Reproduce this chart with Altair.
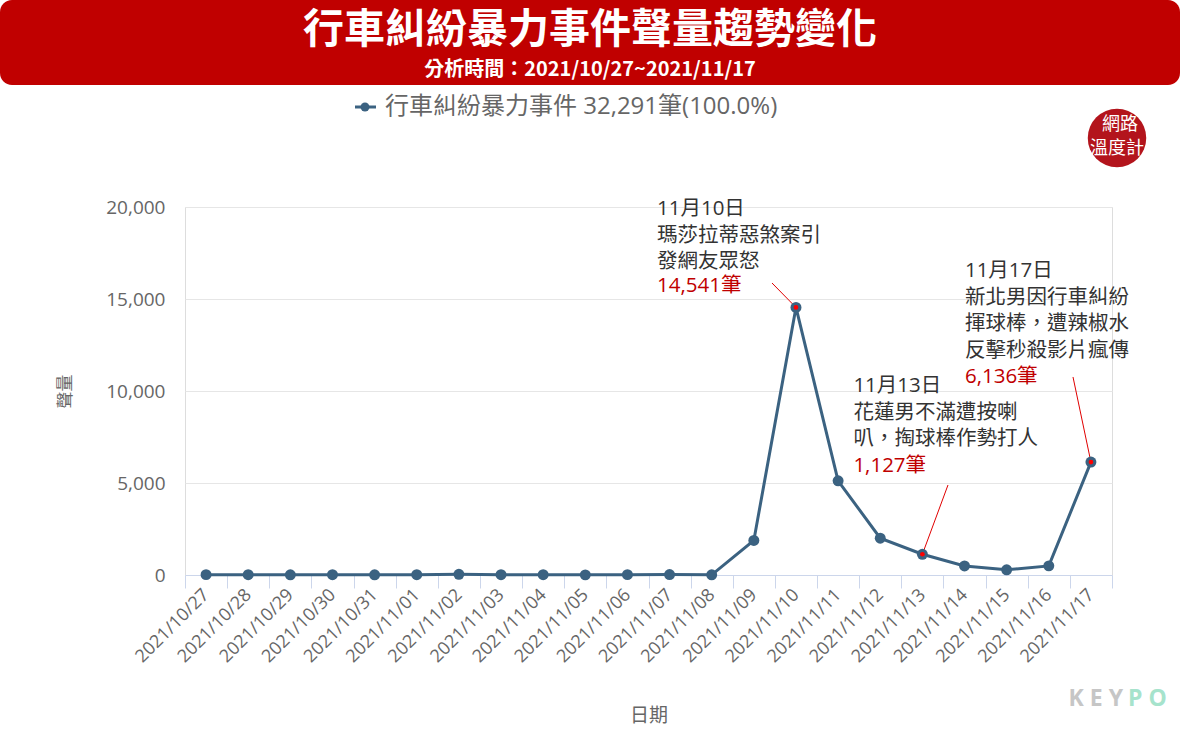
import altair as alt
import pandas as pd

# ---- data -------------------------------------------------------------
dates = [
    "2021/10/27", "2021/10/28", "2021/10/29", "2021/10/30", "2021/10/31",
    "2021/11/01", "2021/11/02", "2021/11/03", "2021/11/04", "2021/11/05",
    "2021/11/06", "2021/11/07", "2021/11/08", "2021/11/09", "2021/11/10",
    "2021/11/11", "2021/11/12", "2021/11/13", "2021/11/14", "2021/11/15",
    "2021/11/16", "2021/11/17",
]
counts = [
    20, 15, 12, 14, 10,
    18, 40, 17, 15, 8,
    20, 22, 10, 1880, 14541,
    5120, 2000, 1127, 490, 280,
    496, 6136,
]
y_ticks = [0, 5000, 10000, 15000, 20000]

series_name = "行車糾紛暴力事件"
title_text = "行車糾紛暴力事件聲量趨勢變化"
subtitle_text = "分析時間：2021/10/27~2021/11/17"

# annotated events: date, caption lines
events = [
    ("2021/11/10", ["11月10日", "瑪莎拉蒂惡煞案引", "發網友眾怒"]),
    ("2021/11/13", ["11月13日", "花蓮男不滿遭按喇", "叭，掏球棒作勢打人"]),
    ("2021/11/17", ["11月17日", "新北男因行車糾紛", "揮球棒，遭辣椒水", "反擊秒殺影片瘋傳"]),
]

# ---- styling ----------------------------------------------------------
W, H = 927, 368          # plot area
PAD_L, PAD_T = 185, 207
LINE_C = "#3b6281"
RED = "#c00000"
GREY = "#666666"
TXT = "#333333"
FONT = "Open Sans, Noto Sans CJK TC"
CJK = "Noto Sans CJK TC"

df = pd.DataFrame({"date": dates, "count": counts})
total = sum(counts)

x_enc = alt.X(
    "date:O",
    sort=dates,
    bandPosition=0.5,
    scale=alt.Scale(type="band", paddingInner=0, paddingOuter=0),
    title="日期",
    axis=alt.Axis(
        labelAngle=-45, labelAlign="right", labelBaseline="middle",
        labelFontSize=18, labelColor=GREY, labelPadding=4,
        tickBand="extent", tickSize=13, tickColor="#ccd6eb",
        domainColor="#ccd6eb", domainWidth=1, grid=False,
        titleFontSize=19, titleColor=GREY, titleFontWeight="normal",
        titleY=140, titleBaseline="middle",
    ),
)
y_enc = alt.Y(
    "count:Q",
    scale=alt.Scale(domain=[0, 20000]),
    title="聲量",
    axis=alt.Axis(
        values=y_ticks, format=",d", domain=False, ticks=False,
        labelFontSize=19, labelColor=GREY, labelPadding=20,
        grid=True, gridColor="#e6e6e6",
        titleFontSize=17, titleColor=GREY, titleFontWeight="normal",
        titleX=-120, titleY=184, titleAlign="center", titleBaseline="middle",
    ),
)

base = alt.Chart(df)
line = base.mark_line(color=LINE_C, strokeWidth=3).encode(x=x_enc, y=y_enc)
dots = base.mark_circle(color=LINE_C, size=120, opacity=1).encode(x=x_enc, y=y_enc)

layers = [line]

# annotation offsets (pixels, relative to the point) and leader ends
ann_layout = {
    "2021/11/10": dict(dx=-139, dy=-92, rdy=-15, lx=587, ly=76),
    "2021/11/13": dict(dx=-69, dy=-162, rdy=-82, lx=763, ly=278),
    "2021/11/17": dict(dx=-126, dy=-185, rdy=-79, lx=888, ly=170),
}

ev_dates = [d for d, _ in events]
ev_df = df[df["date"].isin(ev_dates)].reset_index(drop=True)

for d, lines in events:
    sub = alt.Chart(ev_df[ev_df["date"] == d])
    lay = ann_layout[d]
    layers.append(
        sub.mark_rule(color="#e00000", strokeWidth=1).encode(
            x=x_enc, y=y_enc, x2=alt.value(lay["lx"]), y2=alt.value(lay["ly"])
        )
    )

layers.append(dots)
layers.append(
    alt.Chart(ev_df).mark_circle(color="#ff0000", size=22, opacity=1).encode(x=x_enc, y=y_enc)
)

for d, lines in events:
    sub = alt.Chart(ev_df[ev_df["date"] == d])
    lay = ann_layout[d]
    layers.append(
        sub.mark_text(
            text=lines, align="left", baseline="alphabetic", lineHeight=26.5,
            fontSize=20.5, font=FONT, color=TXT, dx=lay["dx"], dy=lay["dy"],
        ).encode(x=x_enc, y=y_enc)
    )
    layers.append(
        sub.transform_calculate(lbl="format(datum.count, ',') + '筆'")
        .mark_text(
            align="left", baseline="alphabetic", fontSize=20.5, font=FONT,
            color=RED, dx=lay["dx"], dy=lay["rdy"],
        )
        .encode(x=x_enc, y=y_enc, text="lbl:N")
    )

# ---- header, legend and badges (pixel positions outside the plot) -----
one = alt.Chart(pd.DataFrame({"k": [0]}))

banner = one.mark_rect(color=RED, cornerRadius=12).encode(
    x=alt.value(-PAD_L), x2=alt.value(1180 - PAD_L),
    y=alt.value(-PAD_T), y2=alt.value(85 - PAD_T),
)
title = one.mark_text(
    text=title_text, font=CJK, fontSize=41, fontWeight="bold", color="white",
    align="center", baseline="middle",
).encode(x=alt.value(590 - PAD_L), y=alt.value(31 - PAD_T))
subtitle = one.mark_text(
    text=subtitle_text, font=CJK, fontSize=20, fontWeight="bold", color="white",
    align="center", baseline="middle",
).encode(x=alt.value(590 - PAD_L), y=alt.value(70 - PAD_T))

leg_y = 107 - PAD_T
leg_line = one.mark_rule(color=LINE_C, strokeWidth=3).encode(
    x=alt.value(355 - PAD_L), x2=alt.value(376 - PAD_L), y=alt.value(leg_y)
)
leg_dot = one.mark_circle(color=LINE_C, size=80, opacity=1).encode(
    x=alt.value(365 - PAD_L), y=alt.value(leg_y)
)
leg_text = one.mark_text(
    text=f"{series_name} {total:,}筆(100.0%)", font=FONT, fontSize=24,
    color=GREY, align="left", baseline="middle",
).encode(x=alt.value(385 - PAD_L), y=alt.value(leg_y))

badge = one.mark_circle(color="#b3141c", size=3420, opacity=1).encode(
    x=alt.value(1117 - PAD_L), y=alt.value(138 - PAD_T)
)
badge_t1 = one.mark_text(
    text="網路", font=CJK, fontSize=18, color="white", align="center", baseline="middle"
).encode(x=alt.value(1120 - PAD_L), y=alt.value(125 - PAD_T))
badge_t2 = one.mark_text(
    text="溫度計", font=CJK, fontSize=18, color="white", align="center", baseline="middle"
).encode(x=alt.value(1117 - PAD_L), y=alt.value(149 - PAD_T))

key_txt = one.mark_text(
    text="K E Y", font="Open Sans", fontSize=23, fontWeight="bold",
    color="#c6c6c6", align="right", baseline="middle",
).encode(x=alt.value(1123 - PAD_L), y=alt.value(699 - PAD_T))
po_txt = one.mark_text(
    text="P O", font="Open Sans", fontSize=23, fontWeight="bold",
    color="#a6e3cc", align="left", baseline="middle",
).encode(x=alt.value(1128 - PAD_L), y=alt.value(699 - PAD_T))

chart = (
    alt.layer(
        banner, title, subtitle, leg_line, leg_dot, leg_text,
        badge, badge_t1, badge_t2, key_txt, po_txt,
        *layers,
    )
    .properties(
        width=W, height=H,
        autosize=alt.AutoSizeParams(type="none"),
        padding={"left": PAD_L, "top": PAD_T, "right": 1180 - PAD_L - W, "bottom": 740 - PAD_T - H},
        background="white",
    )
    .configure_view(stroke=None)
    .configure(font=FONT)
)

chart.save("out.html", embed_options={"renderer": "svg", "actions": False})
